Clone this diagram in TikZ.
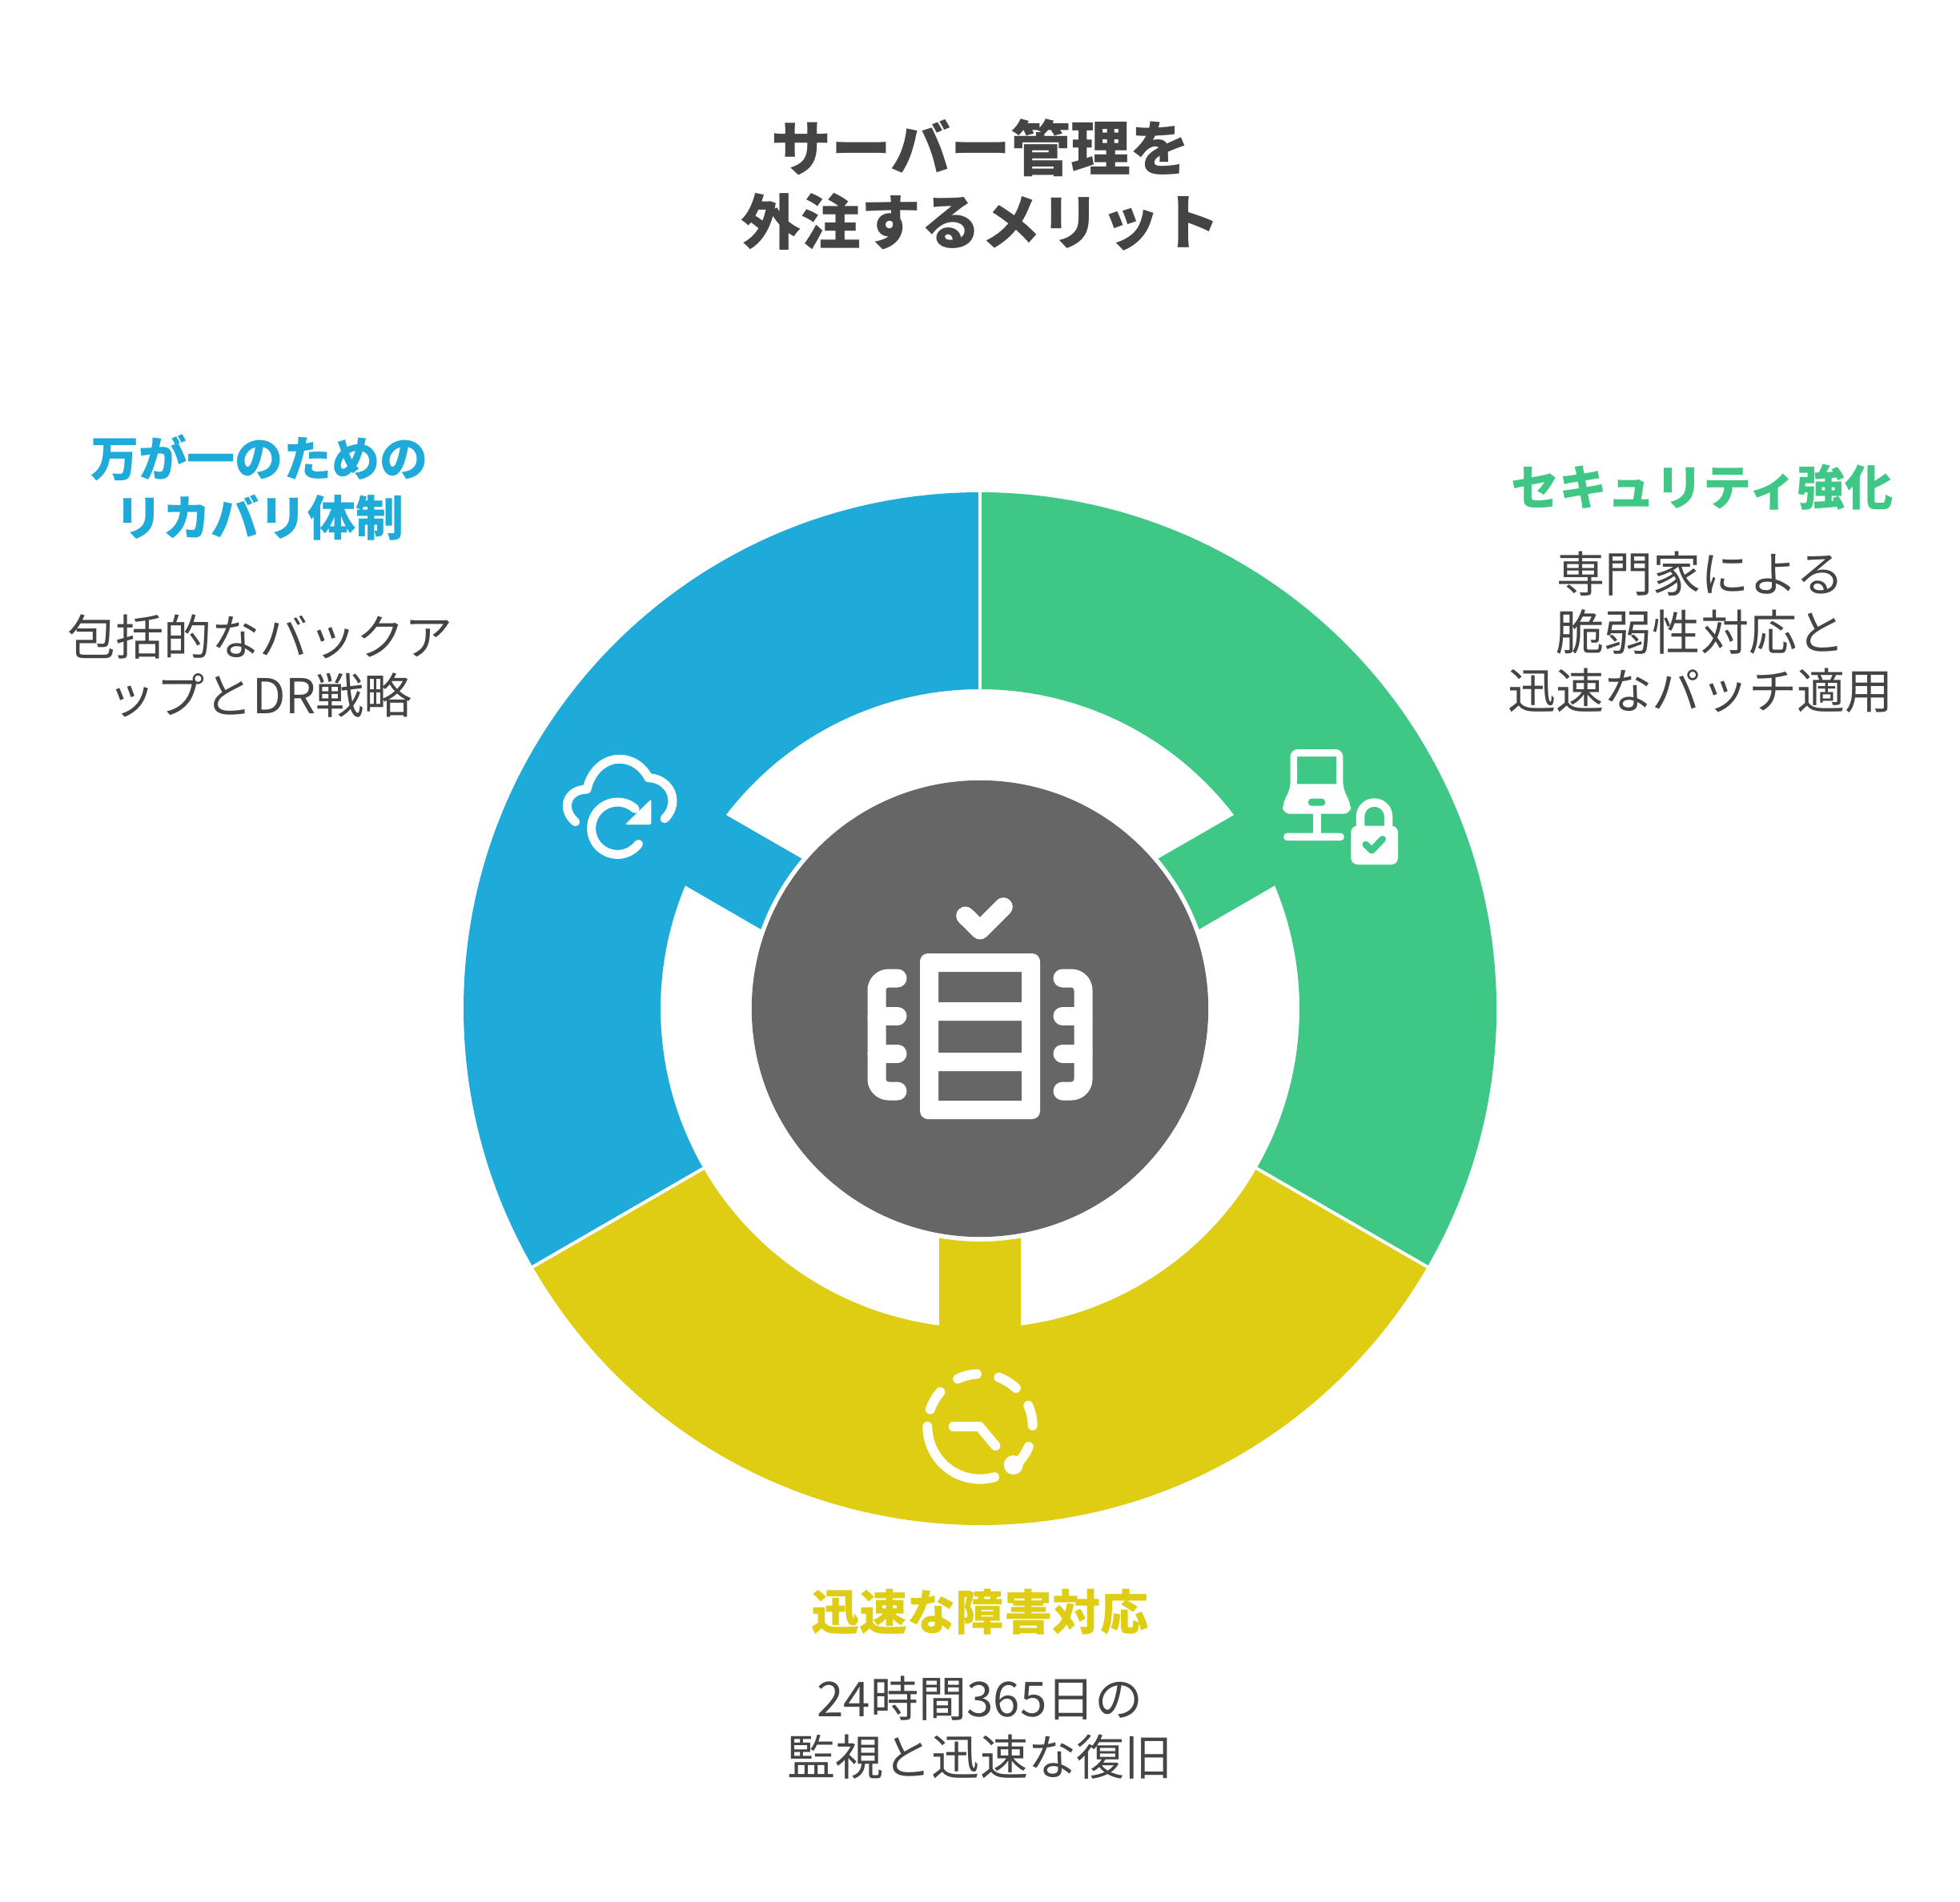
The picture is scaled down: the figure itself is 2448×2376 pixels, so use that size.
\documentclass[tikz,border=0pt]{standalone}
\usepackage{fontspec}
\setmainfont{Noto Sans CJK JP}
\definecolor{segblue}{HTML}{1EABDA}
\definecolor{seggreen}{HTML}{3EC785}
\definecolor{segyellow}{HTML}{DECD13}
\definecolor{hubgray}{HTML}{666666}
\definecolor{textgray}{HTML}{444444}
\tikzset{
    titlefont/.style={text=textgray,align=center,font=\fontsize{21.3pt}{26.2pt}\selectfont\bfseries},
    headfont/.style={align=center,font=\fontsize{17.1pt}{20.8pt}\selectfont\bfseries},
    bodyfont/.style={text=textgray,align=center,font=\fontsize{17.1pt}{20.8pt}\selectfont},
    iconline/.style={draw=white,line width=#1*0.01cm,line cap=round,line join=round}
}

\begin{document}
\begin{tikzpicture}[x=0.01cm,y=-0.01cm]
            \useasboundingbox (0,0) rectangle (2448,2376);
            \begin{scope}[shift={(1224,1260)},y=0.01cm]
            \foreach \c/\a in {segblue/150,seggreen/30,segyellow/270}{
                \fill[\c,rotate=\a] (-60:645) arc[start angle=-60,end angle=60,radius=645]
                    -- (60:399) arc[start angle=60,end angle=7.33,radius=399]
                    -- (10.09:291) arc[start angle=10.09,end angle=-10.09,radius=291]
                    -- (-7.33:399) arc[start angle=-7.33,end angle=-60,radius=399] -- cycle;
            }
            \foreach \a in {90,210,330}{
                \draw[white,line width=0.04cm] (\a:398) -- (\a:646);
            }
            \node (hub) at (0,0) [circle,fill=hubgray,minimum size=5.7cm,inner sep=0pt] {};
            \end{scope}

            % centre icon
            \fill[white,even odd rule,rounded corners=0.1cm] (1149,1191) rectangle (1299,1398)
                [sharp corners] (1172,1214) rectangle (1276,1252)
                (1172,1275) rectangle (1276,1315) (1172,1338) rectangle (1276,1375);
            \draw[iconline=23] (1205.7,1144) -- (1224,1162) -- (1253.3,1132.7);
            \foreach \s/\e in {1095/1121,1353/1327}{
                \draw[iconline=23,rounded corners=0.15cm] (\e,1222) -- (\s,1222) -- (\s,1363) -- (\e,1363);
                \draw[iconline=23] (\s,1269) -- (\e,1269);
                \draw[iconline=23] (\s,1316) -- (\e,1316);
            }

            % cloud
            \draw[iconline=11] (718.7,1026.7) .. controls (712,1021) and (708.3,1014) .. (708.3,1006.7)
                .. controls (708.3,995) and (718,986) .. (733,986)
                .. controls (738,963) and (755,948.3) .. (773.3,948.3)
                .. controls (790,948.3) and (803,958) .. (810,971.7)
                .. controls (827,972) and (840,985) .. (840,1000)
                .. controls (840,1009) and (836,1017) .. (830,1022.7);
            \draw[iconline=11] (793.2,1010.4) arc[start angle=-48,end angle=-323,radius=32.7];
            \fill[white,rounded corners=0.015cm] (813.3,998.3) -- (813.3,1030) -- (780.7,1030) -- cycle;

            % laptop and lock
            \fill[white,even odd rule,rounded corners=0.09cm] (1611.7,936) -- (1677.3,936) -- (1677.3,985)
                -- (1687,1004) -- (1687,1016.7) -- (1602,1016.7) -- (1602,1004) -- (1611.7,985) -- cycle
                [sharp corners] (1620,945) rectangle (1669,979.3);
            \fill[seggreen,rounded corners=0.04cm] (1634,997.7) rectangle (1655,1006.7);
            \fill[white] (1640,1016) rectangle (1650,1041);
            \fill[white,rounded corners=0.04cm] (1603.3,1040.7) -- (1678.7,1040.7) -- (1678.7,1050) -- (1603.3,1050) -- cycle;
            \fill[white,rounded corners=0.08cm] (1687.3,1031.7) rectangle (1746,1080);
            \draw[iconline=10.5] (1699,1034) -- (1699,1020) arc[start angle=180,end angle=360,radius=17.5] -- (1734,1034);
            \draw[seggreen,line width=0.085cm,line cap=round,line join=round] (1705.7,1055) -- (1713.3,1062.3) -- (1726.7,1048.3);

            % clock
            \foreach \a/\b in {180/74,199/221,245/266.5,291/313,336.6/359,22.5/49}{
                \draw[iconline=12] (1224,1782) ++(\a:65.7) arc[start angle=\a,end angle=\b,radius=65.7];
            }
            \fill[white] (1265.7,1830) circle[radius=12];
            \draw[iconline=12] (1190.7,1782) -- (1223.3,1782) -- (1243.3,1806);

            % labels
            \node (title) at (1225,231) [titlefont] {サーバー管理を\\外注するメリット};
            \node (bluehead) at (324,609) [headfont,text=segblue] {万が一のための\\リカバリ体制};
            \node (bluebody) at (325,832) [bodyfont] {包括的なバックア\\ップとDR戦略};
            \node (greenhead) at (2126,609) [headfont,text=seggreen] {セキュリティ強化};
            \node (greenbody) at (2124,790) [bodyfont] {専門家による\\脆弱性対応と\\迅速なパッチ適用};
            \node (yellowhead) at (1224,2014) [headfont,text=segyellow] {迅速な障害対応};
            \node (yellowbody) at (1224,2158) [bodyfont] {24時間365日の\\監視と迅速な復旧};
        \end{tikzpicture}
\end{document}
